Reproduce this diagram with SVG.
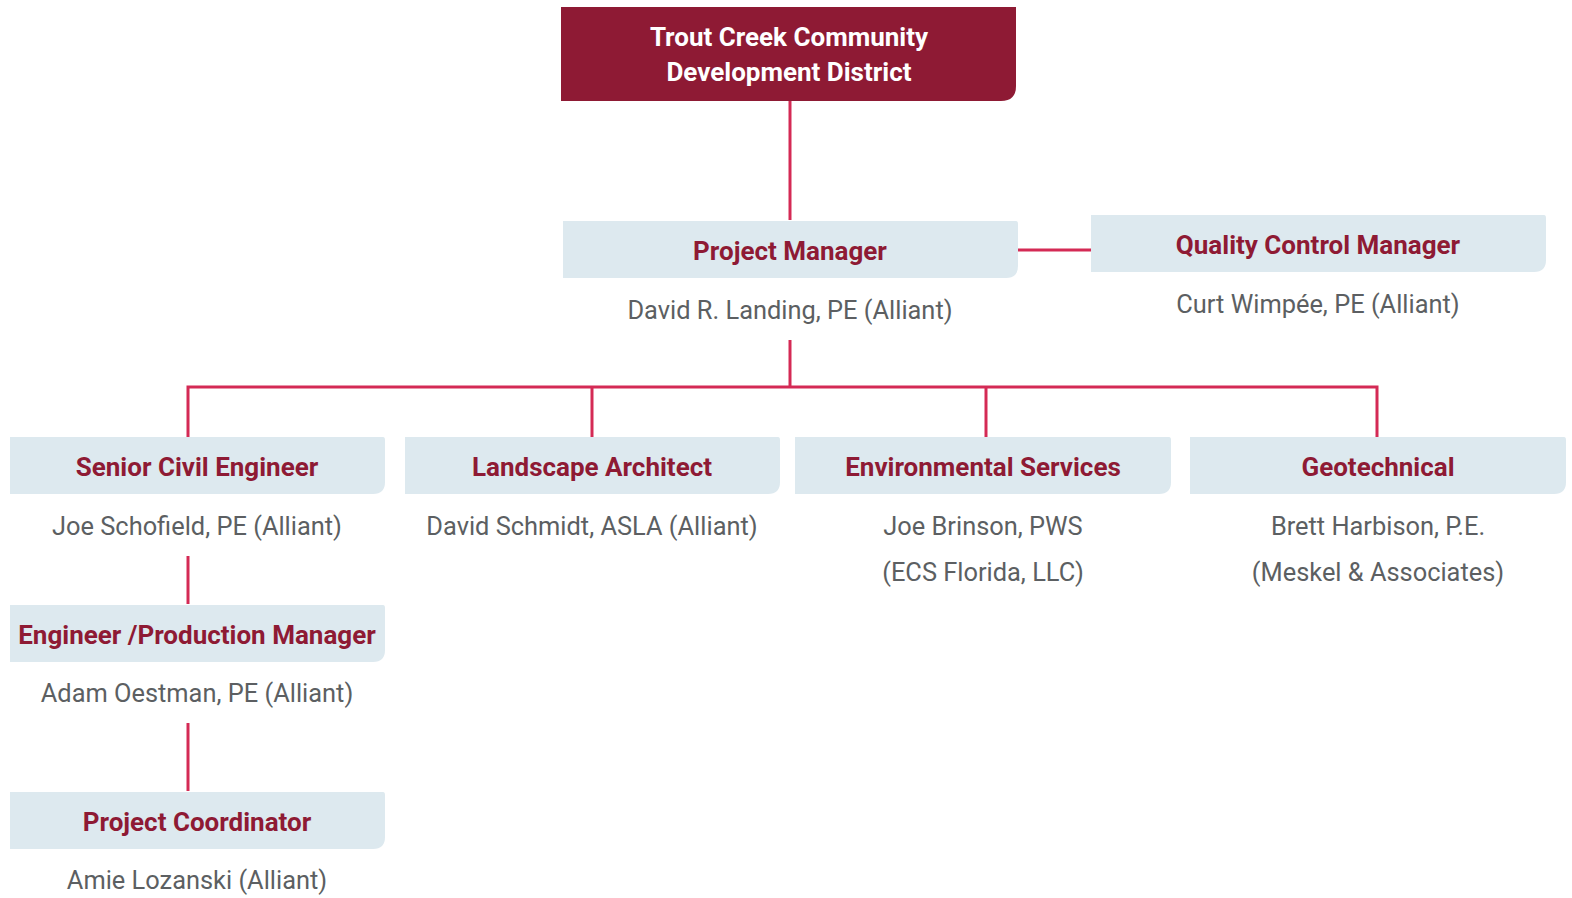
<svg xmlns="http://www.w3.org/2000/svg" width="1572" height="898" viewBox="0 0 1572 898">
<style>
.bx{fill:#dde9ef}
.top{fill:#8e1a34}
.t{font-family:Roboto,"Liberation Sans",sans-serif;font-weight:bold;font-size:26px;fill:#8e1a34;text-anchor:middle}
.tw{font-family:Roboto,"Liberation Sans",sans-serif;font-weight:bold;font-size:26px;fill:#ffffff;text-anchor:middle}
.n{font-family:Roboto,"Liberation Sans",sans-serif;font-size:25.4px;fill:#5c5f62;text-anchor:middle}
.c{stroke:#d42a55;stroke-width:3;fill:none}
</style>
<rect width="1572" height="898" fill="#ffffff"/>
<g id="connectors">
<path class="c" d="M790 101V220"/>
<path class="c" d="M1018 250H1091"/>
<path class="c" d="M790 340V387"/>
<path class="c" d="M188 437V387H1377V437"/>
<path class="c" d="M592 387V437"/>
<path class="c" d="M986 387V437"/>
<path class="c" d="M188 556V604"/>
<path class="c" d="M188 723V791"/>
</g>
<g id="district">
<path class="top" d="M561 7H1016V86Q1016 101 1001 101H561Z"/>
<text class="tw" x="789" y="46">Trout Creek Community</text>
<text class="tw" x="789" y="81">Development District</text>
</g>
<g id="pm">
<path class="bx" d="M563 221H1016Q1018 221 1018 224V266Q1018 278 1006 278H563Z"/>
<text class="t" x="790" y="260">Project Manager</text>
<text class="n" x="790" y="319">David R. Landing, PE (Alliant)</text>
</g>
<g id="qc">
<path class="bx" d="M1091 215H1544Q1546 215 1546 218V260Q1546 272 1534 272H1091Z"/>
<text class="t" x="1318" y="254">Quality Control Manager</text>
<text class="n" x="1318" y="313">Curt Wimpée, PE (Alliant)</text>
</g>
<g id="sce">
<path class="bx" d="M10 437H383Q385 437 385 440V482Q385 494 373 494H10Z"/>
<text class="t" x="197" y="476">Senior Civil Engineer</text>
<text class="n" x="197" y="535">Joe Schofield, PE (Alliant)</text>
</g>
<g id="la">
<path class="bx" d="M405 437H778Q780 437 780 440V482Q780 494 768 494H405Z"/>
<text class="t" x="592" y="476">Landscape Architect</text>
<text class="n" x="592" y="535">David Schmidt, ASLA (Alliant)</text>
</g>
<g id="env">
<path class="bx" d="M795 437H1169Q1171 437 1171 440V482Q1171 494 1159 494H795Z"/>
<text class="t" x="983" y="476">Environmental Services</text>
<text class="n" x="983" y="535">Joe Brinson, PWS</text>
<text class="n" x="983" y="581">(ECS Florida, LLC)</text>
</g>
<g id="geo">
<path class="bx" d="M1190 437H1564Q1566 437 1566 440V482Q1566 494 1554 494H1190Z"/>
<text class="t" x="1378" y="476">Geotechnical</text>
<text class="n" x="1378" y="535">Brett Harbison, P.E.</text>
<text class="n" x="1378" y="581">(Meskel &amp; Associates)</text>
</g>
<g id="epm">
<path class="bx" d="M10 605H383Q385 605 385 608V650Q385 662 373 662H10Z"/>
<text class="t" x="197" y="644">Engineer /Production Manager</text>
<text class="n" x="197" y="702">Adam Oestman, PE (Alliant)</text>
</g>
<g id="pc">
<path class="bx" d="M10 792H383Q385 792 385 795V837Q385 849 373 849H10Z"/>
<text class="t" x="197" y="831">Project Coordinator</text>
<text class="n" x="197" y="889">Amie Lozanski (Alliant)</text>
</g>
</svg>
